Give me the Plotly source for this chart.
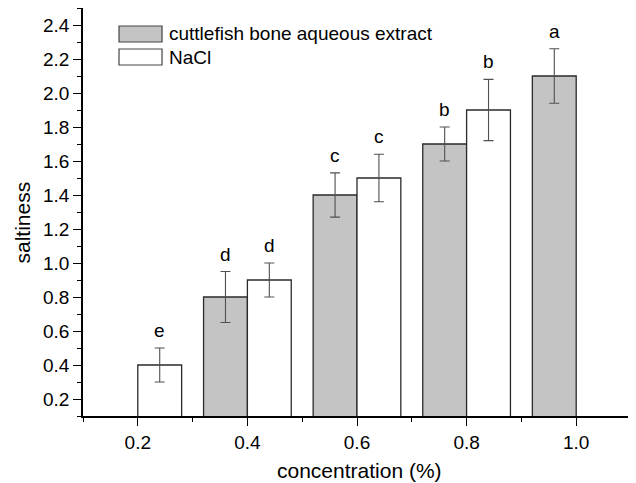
import plotly.graph_objects as go

# ---- data ----
cuttle_conc = [0.4, 0.6, 0.8, 1.0]
cuttle_vals = [0.8, 1.4, 1.7, 2.1]
cuttle_err = [0.15, 0.13, 0.10, 0.16]
cuttle_letters = ["d", "c", "b", "a"]

nacl_conc = [0.2, 0.4, 0.6, 0.8]
nacl_vals = [0.4, 0.9, 1.5, 1.9]
nacl_err = [0.10, 0.10, 0.14, 0.18]
nacl_letters = ["e", "d", "c", "b"]

series_names = ["cuttlefish bone aqueous extract", "NaCl"]
x_title = "concentration (%)"
y_title = "saltiness"

BW = 0.08
FONT = "Liberation Sans, Arial, sans-serif"
GRAY = "#c4c4c4"
EDGE = "#2a2a2a"
ERRC = "#505050"

fig = go.Figure()
fig.add_trace(go.Bar(
    x=cuttle_conc, y=cuttle_vals, width=BW, offset=-BW,
    marker=dict(color=GRAY, line=dict(color=EDGE, width=1.3)),
    error_y=dict(type="data", array=cuttle_err, color=ERRC, thickness=1.1, width=5),
    name=series_names[0], showlegend=False))
fig.add_trace(go.Bar(
    x=nacl_conc, y=nacl_vals, width=BW, offset=0,
    marker=dict(color="white", line=dict(color=EDGE, width=1.3)),
    error_y=dict(type="data", array=nacl_err, color=ERRC, thickness=1.1, width=5),
    name=series_names[1], showlegend=False))

annotations = []
for xs, ys, es, ls, off in [(cuttle_conc, cuttle_vals, cuttle_err, cuttle_letters, -BW / 2),
                            (nacl_conc, nacl_vals, nacl_err, nacl_letters, BW / 2)]:
    for x, y, e, l in zip(xs, ys, es, ls):
        annotations.append(dict(x=x + off, y=y + e, text=l, showarrow=False,
                                xref="x", yref="y", yanchor="bottom", yshift=5,
                                font=dict(family=FONT, size=19, color="black")))

# manual legend (wide swatches)
shapes = []
sw_x0, sw_x1 = 0.0657, 0.1442
rows = [(0.9559, 0.9167, GRAY), (0.8995, 0.8603, "white")]
for (ya, yb, col), name in zip(rows, series_names):
    shapes.append(dict(type="rect", xref="paper", yref="paper", x0=sw_x0, x1=sw_x1,
                       y0=yb, y1=ya, fillcolor=col, line=dict(color="#444", width=1.2)))
    annotations.append(dict(x=0.1533, y=(ya + yb) / 2, xref="paper", yref="paper",
                            text=name, showarrow=False, xanchor="left", yanchor="middle",
                            font=dict(family=FONT, size=19, color="black")))

# axis titles as annotations for exact placement
annotations.append(dict(x=0.5045, y=-0.1348, xref="paper", yref="paper", text=x_title,
                        showarrow=False, xanchor="center", yanchor="middle",
                        font=dict(family=FONT, size=21, color="black")))
annotations.append(dict(x=-0.1113, y=0.4743, xref="paper", yref="paper", text=y_title,
                        showarrow=False, xanchor="center", yanchor="middle", textangle=-90,
                        font=dict(family=FONT, size=21, color="black")))

# page body adds an 8px margin; figure sized/margined to compensate
fig.update_layout(
    width=628, height=475,
    margin=dict(l=75, r=5, t=0, b=67),
    paper_bgcolor="white", plot_bgcolor="white",
    barmode="overlay",
    font=dict(family=FONT, size=19, color="black"),
    annotations=annotations, shapes=shapes,
    xaxis=dict(range=[0.1, 1.1], tick0=0.2, dtick=0.2, tickformat=".1f", automargin=False,
               showgrid=False, zeroline=False, showline=True, linecolor="black", linewidth=1.5,
               ticks="outside", ticklen=8, tickwidth=1.3, tickcolor="black",
               minor=dict(ticks="outside", ticklen=4, dtick=0.1, tick0=0.1, tickcolor="black", showgrid=False),
               tickfont=dict(size=19)),
    yaxis=dict(range=[0.1, 2.5], tick0=0.2, dtick=0.2, tickformat=".1f", automargin=False,
               showgrid=False, zeroline=False, showline=True, linecolor="black", linewidth=1.5,
               ticks="outside", ticklen=8, tickwidth=1.3, tickcolor="black",
               minor=dict(ticks="outside", ticklen=4, dtick=0.1, tick0=0.1, tickcolor="black", showgrid=False),
               tickfont=dict(size=19)),
)

fig.write_html("out.html")
